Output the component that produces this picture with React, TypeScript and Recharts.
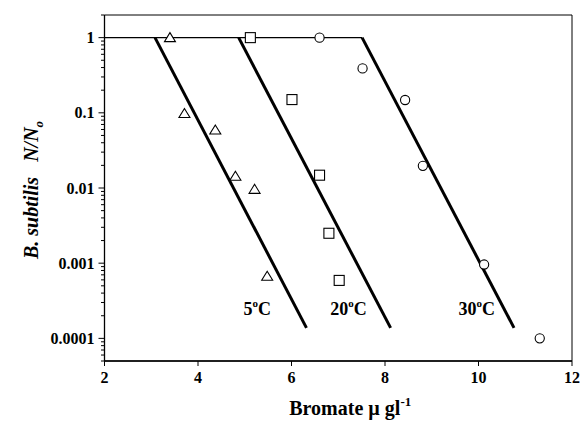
import React from 'react';
import { ComposedChart, Scatter, XAxis, YAxis, ReferenceLine, ReferenceArea } from 'recharts';

const FONT = '"Liberation Serif", "Times New Roman", serif';

// measured survival, 5 °C (triangles)
const bromate5 = [3.4, 3.71, 4.37, 4.8, 5.21, 5.48];
const survival5 = [1, 0.098, 0.059, 0.0143, 0.0096, 0.00067];
// 20 °C (squares)
const bromate20 = [5.12, 6.01, 6.6, 6.8, 7.02];
const survival20 = [1, 0.15, 0.0148, 0.0025, 0.00059];
// 30 °C (circles)
const bromate30 = [6.6, 7.52, 8.43, 8.81, 10.12, 11.31];
const survival30 = [1, 0.39, 0.148, 0.0197, 0.00096, 0.0001];

// fitted lines: shoulder at N/No = 1, then straight down
const fitStartX = [3.08, 4.87, 7.51];
const fitEndX = [6.32, 8.12, 10.76];
const fitStartY = 1;
const fitEndY = 0.000138;

const tempLabels = ['5', '20', '30'];
const tempLabelX = [5.27, 7.22, 9.96];
const tempLabelY = 0.00025;

const xTicks = [2, 4, 6, 8, 10, 12];
const yDomain = [0.00005, 2];

const yTicks: number[] = [];
for (let e = -5; e <= 0; e++) {
  for (let m = 1; m <= 9; m++) {
    const v = +(m * Math.pow(10, e)).toPrecision(6);
    if (v >= yDomain[0] && v <= yDomain[1]) yTicks.push(v);
  }
}

const toPoints = (xs: number[], ys: number[]) => xs.map((x, i) => ({ x, y: ys[i] }));

const Triangle = (p: any) => (
  <path
    d={`M${p.cx},${p.cy - 5} L${p.cx + 5.5},${p.cy + 4} L${p.cx - 5.5},${p.cy + 4} Z`}
    fill="#fff"
    stroke="#000"
    strokeWidth={1.1}
  />
);
const Square = (p: any) => (
  <rect x={p.cx - 5} y={p.cy - 5} width={10} height={10} fill="#fff" stroke="#000" strokeWidth={1.1} />
);
const Circle = (p: any) => <circle cx={p.cx} cy={p.cy} r={4.6} fill="#fff" stroke="#000" strokeWidth={1.1} />;

const TempLabel = (p: any) => (
  <text x={p.cx} y={p.cy + 7} textAnchor="middle" fontFamily={FONT} fontWeight="bold" fontSize={18} fill="#000">
    {p.payload.name}
    <tspan dy={-8} fontSize={11}>o</tspan>
    <tspan dy={8}>C</tspan>
  </text>
);

const YTick = (props: any) => {
  const { x, y, payload } = props;
  const v = payload.value;
  const lg = Math.log10(v);
  const major = Math.abs(lg - Math.round(lg)) < 1e-6;
  return (
    <g>
      <line x1={x - (major ? 6 : 3.5)} x2={x} y1={y} y2={y} stroke="#000" strokeWidth={1} />
      {major && (
        <text x={x - 10} y={y} dy="0.35em" textAnchor="end" fontFamily={FONT} fontWeight="bold" fontSize={16} fill="#000">
          {String(v)}
        </text>
      )}
    </g>
  );
};

const YLabel = (props: any) => {
  const vb = props.viewBox;
  const cx = 31;
  const cy = vb.y + vb.height / 2 + 2;
  return (
    <text
      x={cx}
      y={cy}
      dy="0.35em"
      transform={`rotate(-90 ${cx} ${cy})`}
      textAnchor="middle"
      fontFamily={FONT}
      fontWeight="bold"
      fontStyle="italic"
      fontSize={20}
      fill="#000"
    >
      B. subtilis{'\u00a0\u00a0\u00a0'}N/N
      <tspan dy={5} fontSize={13}>o</tspan>
    </text>
  );
};

const XLabel = (props: any) => {
  const vb = props.viewBox;
  const cx = vb.x + vb.width / 2 + 12;
  return (
    <text x={cx} y={415} textAnchor="middle" fontFamily={FONT} fontWeight="bold" fontSize={20} fill="#000">
      Bromate µ gl
      <tspan dy={-9} fontSize={13}>-1</tspan>
    </text>
  );
};

export default function App() {
  const labelData = tempLabels.map((name, i) => ({ x: tempLabelX[i], y: tempLabelY, name }));
  return (
    <div style={{ position: 'absolute', left: 0, top: 0, background: '#fff' }}>
      <ComposedChart width={584} height={421} margin={{ top: 15, right: 12, bottom: 30, left: 0 }}>
        <XAxis
          type="number"
          dataKey="x"
          domain={[2, 12]}
          ticks={xTicks}
          interval={0}
          axisLine={{ stroke: '#000', strokeWidth: 1.3 }}
          tickLine={{ stroke: '#000' }}
          tickSize={5}
          tickMargin={6}
          height={30}
          tick={{ fill: '#000', fontFamily: FONT, fontWeight: 'bold', fontSize: 16 }}
          label={<XLabel />}
        />
        <YAxis
          type="number"
          dataKey="y"
          scale="log"
          domain={yDomain}
          allowDataOverflow
          ticks={yTicks}
          interval={0}
          width={104.5}
          tickSize={0}
          tickMargin={0}
          tickLine={false}
          axisLine={{ stroke: '#000', strokeWidth: 1.3 }}
          tick={<YTick />}
          label={<YLabel />}
        />
        <ReferenceArea x1={2} x2={12} y1={yDomain[0]} y2={yDomain[1]} fill="none" stroke="#000" strokeWidth={1} />
        <ReferenceLine
          segment={[{ x: 2, y: fitStartY }, { x: fitStartX[2], y: fitStartY }]}
          stroke="#000"
          strokeWidth={1.3}
        />
        {fitStartX.map((sx, i) => (
          <ReferenceLine
            key={i}
            segment={[{ x: sx, y: fitStartY }, { x: fitEndX[i], y: fitEndY }]}
            stroke="#000"
            strokeWidth={3}
          />
        ))}
        <Scatter data={toPoints(bromate5, survival5)} shape={<Triangle />} isAnimationActive={false} />
        <Scatter data={toPoints(bromate20, survival20)} shape={<Square />} isAnimationActive={false} />
        <Scatter data={toPoints(bromate30, survival30)} shape={<Circle />} isAnimationActive={false} />
        <Scatter data={labelData} shape={<TempLabel />} isAnimationActive={false} />
      </ComposedChart>
    </div>
  );
}
